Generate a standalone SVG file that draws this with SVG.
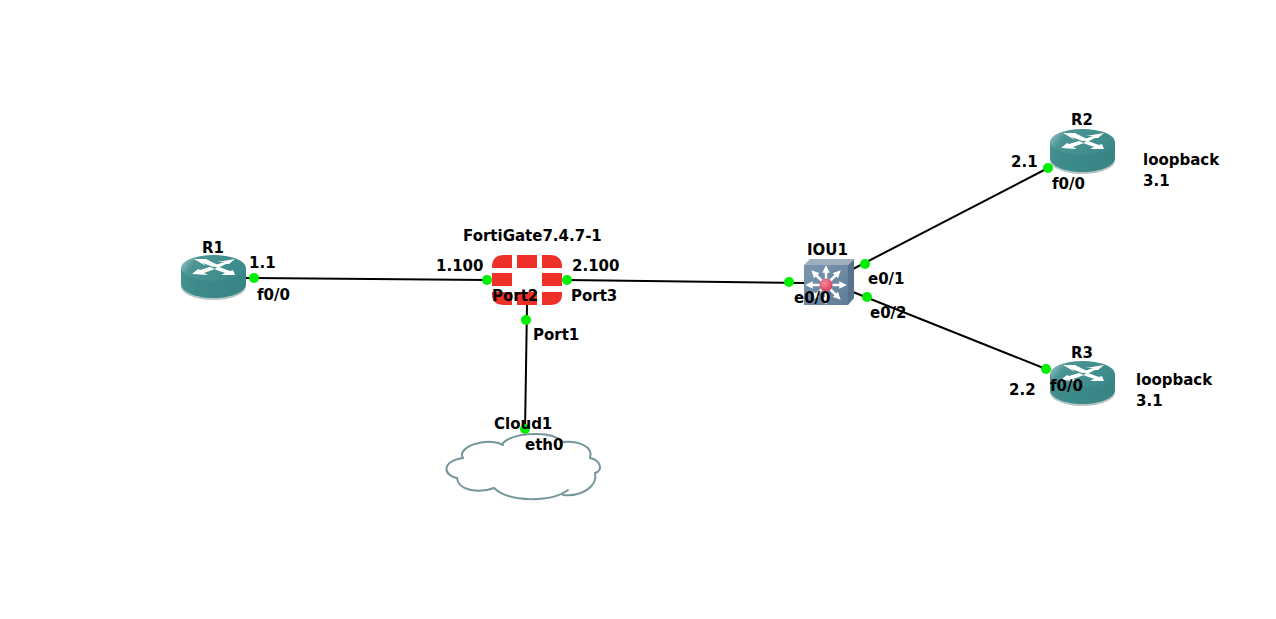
<svg xmlns="http://www.w3.org/2000/svg" width="1276" height="619" viewBox="0 0 1276 619">
<style>
text{font-family:"DejaVu Sans","Liberation Sans",sans-serif;font-weight:700;font-size:15px;fill:#000}
.l{stroke:#000;stroke-width:2;fill:none}
.d{fill:#00ee00}
.f{fill:#ee3128}
.c{fill:none;stroke:#76969c;stroke-width:2;stroke-linecap:round}
</style>
<defs>
<linearGradient id="rs" x1="0" x2="1" y1="0" y2="0"><stop offset="0" stop-color="#459090"/><stop offset=".25" stop-color="#3c8a8a"/><stop offset="1" stop-color="#388484"/></linearGradient>
<linearGradient id="rt" x1="0" x2="1" y1="0" y2="0.3"><stop offset="0" stop-color="#a8cccc"/><stop offset=".28" stop-color="#4a9494"/><stop offset="1" stop-color="#3c8a8a"/></linearGradient>
<linearGradient id="sw" x1="0" x2="1" y1="0" y2="1"><stop offset="0" stop-color="#7d96ae"/><stop offset="1" stop-color="#5f7d99"/></linearGradient>
<radialGradient id="red" cx=".4" cy=".35" r=".7"><stop offset="0" stop-color="#f58a9a"/><stop offset="1" stop-color="#d93a58"/></radialGradient>
<marker id="ah" viewBox="0 0 6 6" refX="3" refY="3" markerWidth="3" markerHeight="3" orient="auto"><path d="M0 0 6 3 0 6Z" fill="#fff"/></marker>
<g id="router">
<ellipse cx="32.500" cy="31.500" rx="32.500" ry="13.500" fill="#b5c4c4"/>
<path d="M0 13V29C0 37 15 43 32.500 43S65 37 65 29V13Z" fill="url(#rs)"/>
<ellipse cx="32.500" cy="13" rx="32.500" ry="13" fill="url(#rt)"/>
<g fill="#fff">
<path d="M13 4H25L37 10 32 12 22 8 25 11Z"/>
<path d="M54 4 48 9H45L37 13 32 11 43 7H36Z"/>
<path d="M11 19 17 14 19 15 29 12 34 14 23 18 27 20Z"/>
<path d="M33 14 38 12 49 16 52 15 54 20 40 20 44 18Z"/>
</g>
</g>
</defs>
<g id="connectors">
<path class="l" d="M246 278 487 280"/>
<path class="l" d="M567 280 805 283"/>
<path class="l" d="M527 305 525 432"/>
<path class="l" d="M853 269 1048 168"/>
<path class="l" d="M853 292 1046 369"/>
</g>
<g id="R1"><use href="#router" x="181" y="255"/><text x="202" y="253">R1</text></g>
<g id="R2"><use href="#router" x="1050" y="129"/><text x="1071" y="125">R2</text></g>
<g id="R3"><use href="#router" x="1050" y="361"/><text x="1071" y="358">R3</text></g>
<g id="FortiGate">
<path class="f" d="M492 268V267Q492 255 504 255H512V268Z"/>
<rect class="f" x="517" y="255" width="20" height="13"/>
<path class="f" d="M542 255H550Q562 255 562 267V268H542Z"/>
<rect class="f" x="492" y="273" width="20" height="13"/>
<rect class="f" x="542" y="273" width="20" height="13"/>
<path class="f" d="M492 292H512V305H504Q492 305 492 294Z"/>
<rect class="f" x="517" y="292" width="20" height="13"/>
<path class="f" d="M542 292H562V294Q562 305 550 305H542Z"/>
<text x="463" y="241">FortiGate7.4.7-1</text>
</g>
<g id="IOU1">
<path d="M804 265 810 259H854L848 265Z" fill="#9fafbf"/>
<path d="M848 265 854 259V298L848 305Z" fill="#56728d"/>
<rect x="804" y="265" width="44" height="40" fill="url(#sw)"/>
<g stroke="#fff" stroke-width="2.500" fill="none" marker-end="url(#ah)">
<path d="M826 285V269"/><path d="M826 285V301"/><path d="M826 285H809"/><path d="M826 285H843"/>
<path d="M826 285 814 273"/><path d="M826 285 838 273"/><path d="M826 285 814 297"/><path d="M826 285 838 297"/>
</g>
<circle cx="826" cy="285" r="6.500" fill="url(#red)"/>
<text x="807" y="255">IOU1</text>
</g>
<g id="dots">
<circle class="d" cx="254" cy="278" r="5"/>
<circle class="d" cx="487" cy="280" r="5"/>
<circle class="d" cx="567" cy="280" r="5"/>
<circle class="d" cx="526" cy="320" r="5"/>
<circle class="d" cx="789" cy="282" r="5"/>
<circle class="d" cx="865" cy="264" r="5"/>
<circle class="d" cx="867" cy="297" r="5"/>
<circle class="d" cx="1048" cy="168" r="5"/>
<circle class="d" cx="1046" cy="369" r="5"/>
<circle class="d" cx="525" cy="429" r="5"/>
</g>
<g id="Cloud1">
<path fill="#fff" d="M503 444C510 436 525 434 537 434 548 434 558 437 563 442 578 441 594 446 590 458 600 460 604 470 595 473 598 486 582 497 563 495 550 502 510 503 494 488 478 494 458 490 457 478 444 476 440 462 463 458 456 448 485 436 503 444Z"/>
<path class="c" d="M503 443C510 436 525 434 537 434 548 434 558 437 563 442"/>
<path class="c" d="M563 442C578 441 594 446 590 458"/>
<path class="c" d="M590 458C600 460 604 470 595 473"/>
<path class="c" d="M595 473C598 486 582 497 563 495"/>
<path class="c" d="M568 490C552 502 510 503 494 488"/>
<path class="c" d="M494 488C478 494 458 490 457 478"/>
<path class="c" d="M457 478C444 476 440 462 463 458"/>
<path class="c" d="M463 458C456 448 485 436 503 445"/>
<text x="494" y="429">Cloud1</text>
</g>
<g id="labels">
<text x="249" y="268">1.1</text>
<text x="257" y="300">f0/0</text>
<text x="436" y="271">1.100</text>
<text x="572" y="271">2.100</text>
<text x="492" y="301">Port2</text>
<text x="571" y="301">Port3</text>
<text x="533" y="340">Port1</text>
<text x="794" y="303">e0/0</text>
<text x="868" y="284">e0/1</text>
<text x="870" y="318">e0/2</text>
<text x="525" y="450">eth0</text>
<text x="1011" y="167">2.1</text>
<text x="1052" y="189">f0/0</text>
<text x="1143" y="165">loopback</text>
<text x="1143" y="186">3.1</text>
<text x="1009" y="395">2.2</text>
<text x="1050" y="391">f0/0</text>
<text x="1136" y="385">loopback</text>
<text x="1136" y="406">3.1</text>
</g>
</svg>
